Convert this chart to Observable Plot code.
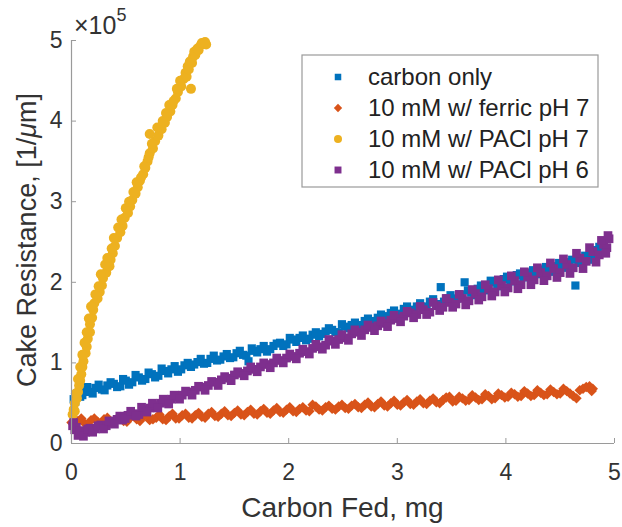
<!DOCTYPE html>
<html><head><meta charset="utf-8">
<script src="https://cdn.jsdelivr.net/npm/d3@7"></script>
<script src="https://cdn.jsdelivr.net/npm/@observablehq/plot@0.6"></script>
<style>body{margin:0;background:#fff}#chart{width:622px;height:527px;position:relative}</style>
</head><body><div id="chart"></div>
<script>
// y values in units of 10^5 (1/µm); x in mg
const carbonOnly = [[0.02,0.55],[0.05,0.62],[0.08,0.58],[0.12,0.66],[0.17,0.64],[0.22,0.69],[0.28,0.67],[0.33,0.72],[0.39,0.74],[0.45,0.71],[0.50,0.78],[0.56,0.76],[0.62,0.82],[0.68,0.80],[0.74,0.86],[0.80,0.84],[0.86,0.90],[0.92,0.92],[0.98,0.89],[1.04,0.97],[1.10,0.95],[1.16,1.01],[1.22,0.99],[1.28,1.05],[1.34,1.03],[1.40,1.08],[1.46,1.06],[1.52,1.12],[1.58,1.10],[1.63,1.02],[1.68,1.15],[1.74,1.17],[1.80,1.14],[1.86,1.21],[1.92,1.25],[1.98,1.23],[2.04,1.29],[2.10,1.31],[2.16,1.28],[2.22,1.35],[2.28,1.33],[2.34,1.39],[2.40,1.41],[2.46,1.38],[2.52,1.45],[2.58,1.47],[2.64,1.44],[2.70,1.52],[2.76,1.50],[2.82,1.56],[2.88,1.58],[2.94,1.62],[3.00,1.60],[3.06,1.67],[3.12,1.65],[3.18,1.70],[3.24,1.68],[3.30,1.76],[3.36,1.73],[3.40,1.94],[3.46,1.80],[3.52,1.78],[3.58,1.85],[3.62,2.00],[3.68,1.87],[3.74,1.92],[3.80,1.90],[3.86,2.02],[3.92,1.97],[3.98,2.04],[4.04,2.01],[4.10,2.09],[4.16,2.06],[4.22,2.12],[4.28,2.10],[4.34,2.16],[4.40,2.13],[4.46,2.20],[4.52,2.18],[4.58,2.25],[4.64,1.96],[4.70,2.30],[4.76,2.28],[4.82,2.38],[4.86,2.44],
[0.035,0.52],[0.10,0.60],[0.145,0.70],[0.195,0.62],[0.25,0.73],[0.305,0.66],[0.36,0.76],[0.42,0.70],[0.475,0.80],[0.53,0.73],[0.59,0.85],[0.65,0.78],[0.71,0.88],[0.77,0.82],[0.83,0.93],[0.89,0.87],[0.95,0.96],[1.01,0.92],[1.07,1.00],[1.13,0.98],[1.19,1.05],[1.25,1.00],[1.31,1.09],[1.37,1.04],[1.43,1.11],[1.49,1.07],[1.55,1.15],[1.61,1.09],[1.66,1.18],[1.71,1.13],[1.77,1.21],[1.83,1.17],[1.89,1.24],[1.95,1.21],[2.01,1.31],[2.07,1.26],[2.13,1.34],[2.19,1.30],[2.25,1.38],[2.31,1.36],[2.37,1.43],[2.43,1.38],[2.49,1.48],[2.55,1.43],[2.61,1.50],[2.67,1.47],[2.73,1.55],[2.79,1.52],[2.85,1.60],[2.91,1.55],[2.97,1.65],[3.03,1.61],[3.09,1.70],[3.15,1.66],[3.21,1.74],[3.27,1.70],[3.33,1.79],[3.43,1.76],[3.49,1.84],[3.55,1.80],[3.65,1.90],[3.71,1.84],[3.77,1.96],[3.83,1.92],[3.89,2.00],[3.95,1.95],[4.01,2.07],[4.07,2.03],[4.13,2.11],[4.19,2.07],[4.25,2.15],[4.31,2.11],[4.37,2.19],[4.43,2.15],[4.49,2.24],[4.55,2.19],[4.61,2.28],[4.67,2.24],[4.73,2.33],[4.79,2.30],[4.84,2.40]];

const ferricPH7 = [[0.00,0.26],[0.06,0.28],[0.12,0.25],[0.18,0.29],[0.24,0.27],[0.30,0.30],[0.36,0.27],[0.42,0.31],[0.48,0.28],[0.54,0.32],[0.60,0.30],[0.66,0.33],[0.72,0.29],[0.78,0.32],[0.84,0.30],[0.90,0.34],[0.96,0.31],[1.02,0.35],[1.08,0.32],[1.14,0.35],[1.20,0.33],[1.26,0.37],[1.32,0.34],[1.38,0.37],[1.44,0.35],[1.50,0.38],[1.56,0.36],[1.62,0.39],[1.68,0.37],[1.74,0.40],[1.80,0.38],[1.86,0.41],[1.92,0.39],[1.98,0.42],[2.04,0.40],[2.10,0.43],[2.16,0.41],[2.22,0.48],[2.28,0.42],[2.34,0.45],[2.40,0.43],[2.46,0.46],[2.52,0.44],[2.58,0.47],[2.64,0.45],[2.70,0.48],[2.76,0.46],[2.82,0.49],[2.88,0.47],[2.94,0.50],[3.00,0.48],[3.06,0.51],[3.12,0.49],[3.18,0.52],[3.24,0.50],[3.30,0.53],[3.36,0.51],[3.42,0.54],[3.48,0.58],[3.54,0.53],[3.60,0.56],[3.66,0.54],[3.72,0.57],[3.78,0.55],[3.84,0.59],[3.90,0.56],[3.96,0.60],[4.02,0.58],[4.08,0.61],[4.14,0.59],[4.20,0.62],[4.26,0.60],[4.32,0.63],[4.38,0.61],[4.44,0.64],[4.50,0.62],[4.56,0.65],[4.62,0.59],[4.68,0.66],[4.74,0.70],[4.80,0.68],
[0.03,0.23],[0.09,0.31],[0.15,0.24],[0.21,0.31],[0.27,0.25],[0.33,0.32],[0.39,0.26],[0.45,0.33],[0.51,0.27],[0.57,0.34],[0.63,0.28],[0.69,0.35],[0.75,0.30],[0.81,0.36],[0.87,0.29],[0.93,0.37],[0.99,0.31],[1.05,0.37],[1.11,0.31],[1.17,0.38],[1.23,0.32],[1.29,0.39],[1.35,0.33],[1.41,0.40],[1.47,0.34],[1.53,0.41],[1.59,0.35],[1.65,0.42],[1.71,0.36],[1.77,0.43],[1.83,0.37],[1.89,0.44],[1.95,0.38],[2.01,0.45],[2.07,0.39],[2.13,0.45],[2.19,0.40],[2.25,0.46],[2.31,0.41],[2.37,0.47],[2.43,0.42],[2.49,0.48],[2.55,0.43],[2.61,0.49],[2.67,0.44],[2.73,0.51],[2.79,0.45],[2.85,0.52],[2.91,0.46],[2.97,0.53],[3.03,0.47],[3.09,0.54],[3.15,0.48],[3.21,0.55],[3.27,0.49],[3.33,0.56],[3.39,0.50],[3.45,0.57],[3.51,0.52],[3.57,0.58],[3.63,0.53],[3.69,0.60],[3.75,0.54],[3.81,0.61],[3.87,0.55],[3.93,0.62],[3.99,0.57],[4.05,0.63],[4.11,0.58],[4.17,0.65],[4.23,0.59],[4.29,0.66],[4.35,0.60],[4.41,0.67],[4.47,0.61],[4.53,0.68],[4.59,0.62],[4.65,0.56],[4.71,0.68],[4.77,0.71],[4.79,0.65]];

const paclPH7 = [[0.01,0.36],[0.02,0.42],[0.03,0.50],[0.05,0.56],[0.06,0.64],[0.07,0.72],[0.08,0.78],[0.09,0.86],[0.10,0.95],[0.11,1.02],[0.13,1.12],[0.14,1.20],[0.15,1.30],[0.17,1.38],[0.17,1.48],[0.19,1.56],[0.20,1.66],[0.21,1.74],[0.24,1.80],[0.26,1.88],[0.28,1.96],[0.29,2.05],[0.32,2.12],[0.35,2.20],[0.36,2.28],[0.38,2.36],[0.40,2.45],[0.42,2.55],[0.45,2.62],[0.47,2.70],[0.49,2.80],[0.52,2.86],[0.54,2.94],[0.56,3.02],[0.59,3.10],[0.61,3.18],[0.63,3.26],[0.66,3.34],[0.68,3.42],[0.70,3.50],[0.72,3.60],[0.75,3.66],[0.77,3.75],[0.80,3.82],[0.72,3.84],[0.83,3.90],[0.86,3.98],[0.88,4.05],[0.91,4.12],[0.93,4.20],[0.96,4.28],[0.98,4.36],[1.01,4.43],[1.10,4.40],[1.03,4.52],[1.05,4.60],[1.07,4.68],[1.09,4.74],[1.12,4.80],[1.13,4.86],[1.16,4.90],[1.19,4.94],[1.22,4.96],[1.24,4.95],
[0.03,0.40],[0.04,0.62],[0.06,0.80],[0.08,0.95],[0.10,1.10],[0.12,1.25],[0.14,1.38],[0.16,1.55],[0.18,1.70],[0.22,1.85],[0.25,1.95],[0.27,2.10],[0.31,2.22],[0.33,2.30],[0.37,2.42],[0.39,2.55],[0.43,2.68],[0.46,2.78],[0.50,2.92],[0.53,3.00],[0.57,3.12],[0.60,3.24],[0.64,3.30],[0.67,3.44],[0.71,3.55],[0.74,3.72],[0.79,3.92],[0.84,4.00],[0.87,4.10],[0.90,4.20],[0.94,4.25],[0.97,4.40],[1.00,4.50],[1.06,4.55],[1.08,4.64],[1.11,4.72],[1.14,4.82],[1.17,4.88],[1.20,4.97],[1.23,4.98]];

const paclPH6 = [[0.01,0.22],[0.03,0.17],[0.06,0.10],[0.09,0.13],[0.13,0.14],[0.17,0.19],[0.22,0.18],[0.27,0.23],[0.32,0.22],[0.37,0.27],[0.42,0.30],[0.47,0.29],[0.52,0.35],[0.57,0.37],[0.62,0.36],[0.67,0.42],[0.72,0.44],[0.77,0.47],[0.82,0.50],[0.87,0.52],[0.92,0.55],[0.97,0.58],[1.02,0.60],[1.08,0.64],[1.14,0.66],[1.20,0.70],[1.26,0.72],[1.32,0.76],[1.38,0.79],[1.44,0.81],[1.50,0.85],[1.56,0.87],[1.62,0.90],[1.68,0.92],[1.74,0.95],[1.80,0.98],[1.86,1.00],[1.92,1.03],[1.98,1.06],[2.04,1.08],[2.10,1.12],[2.16,1.14],[2.22,1.18],[2.28,1.20],[2.34,1.22],[2.40,1.27],[2.46,1.29],[2.52,1.31],[2.58,1.36],[2.64,1.38],[2.70,1.41],[2.76,1.44],[2.82,1.46],[2.88,1.49],[2.94,1.53],[3.00,1.55],[3.06,1.58],[3.12,1.62],[3.18,1.60],[3.24,1.66],[3.30,1.63],[3.36,1.71],[3.42,1.69],[3.48,1.75],[3.54,1.73],[3.60,1.80],[3.66,1.77],[3.72,1.86],[3.78,1.82],[3.84,1.92],[3.90,1.88],[3.96,1.96],[4.02,1.93],[4.08,2.02],[4.14,1.97],[4.20,2.07],[4.26,2.03],[4.32,2.12],[4.38,2.08],[4.44,2.17],[4.50,2.12],[4.56,2.22],[4.62,2.18],[4.68,2.30],[4.74,2.26],[4.80,2.38],[4.86,2.34],[4.90,2.47],[4.93,2.43],[4.95,2.54],
[0.02,0.26],[0.045,0.20],[0.075,0.16],[0.11,0.09],[0.15,0.18],[0.195,0.14],[0.245,0.22],[0.295,0.18],[0.345,0.28],[0.395,0.24],[0.445,0.34],[0.495,0.31],[0.545,0.40],[0.595,0.34],[0.645,0.45],[0.695,0.39],[0.745,0.50],[0.795,0.44],[0.845,0.55],[0.895,0.49],[0.945,0.60],[0.995,0.55],[1.05,0.65],[1.11,0.60],[1.17,0.71],[1.23,0.66],[1.29,0.77],[1.35,0.72],[1.41,0.83],[1.47,0.78],[1.53,0.89],[1.59,0.84],[1.65,0.95],[1.71,0.89],[1.77,1.00],[1.83,0.94],[1.89,1.06],[1.95,1.00],[2.01,1.11],[2.07,1.05],[2.13,1.17],[2.19,1.11],[2.25,1.23],[2.31,1.17],[2.37,1.29],[2.43,1.23],[2.49,1.35],[2.55,1.28],[2.61,1.41],[2.67,1.34],[2.73,1.47],[2.79,1.40],[2.85,1.52],[2.91,1.45],[2.97,1.59],[3.03,1.51],[3.09,1.64],[3.15,1.56],[3.21,1.70],[3.27,1.60],[3.33,1.75],[3.39,1.65],[3.45,1.80],[3.51,1.69],[3.57,1.85],[3.63,1.72],[3.69,1.91],[3.75,1.78],[3.81,1.97],[3.87,1.83],[3.93,2.03],[3.99,1.88],[4.05,2.08],[4.11,1.92],[4.17,2.13],[4.23,1.97],[4.29,2.18],[4.35,2.02],[4.41,2.24],[4.47,2.06],[4.53,2.29],[4.59,2.11],[4.65,2.36],[4.71,2.17],[4.77,2.43],[4.83,2.25],[4.88,2.52],[4.92,2.36],[4.94,2.58]];

const seriesNames = ["carbon only", "10 mM w/ ferric pH 7", "10 mM w/ PACl pH 7", "10 mM w/ PACl pH 6"];
const seriesColors = ["#0072BD", "#D95319", "#EDB120", "#7E2F8E"];
const seriesSymbols = ["square", "diamond2", "circle", "square"];
const seriesR = [4.6, 4.7, 5.0, 4.9];
const xTicks = [0, 1, 2, 3, 4, 5];
const yTicks = [0, 1, 2, 3, 4, 5];
const xLabel = "Carbon Fed, mg";
const yLabelPre = "Cake Resistance, [1/";
const yLabelMu = "\u03BC";
const yLabelPost = "m]";

const FONT = "'Liberation Sans', Arial, Helvetica, sans-serif";
const rows = s => s.map(([x, y]) => ({x, y}));
const allSeries = [carbonOnly, ferricPH7, paclPH7, paclPH6];

const dotMarks = allSeries.map((s, i) => Plot.dot(rows(s), {
  x: "x", y: "y", symbol: seriesSymbols[i], r: seriesR[i],
  fill: seriesColors[i], stroke: "none"
}));

const plot = Plot.plot({
  width: 622, height: 527,
  marginLeft: 71, marginRight: 8, marginTop: 40, marginBottom: 84,
  style: {fontFamily: FONT, background: "white", overflow: "visible"},
  x: {domain: [0, 5]},
  y: {domain: [0, 5]},
  marks: [
    ...dotMarks,
    Plot.ruleY([0], {stroke: "#9a9a9a", strokeWidth: 1.2}),
    Plot.ruleX([0], {stroke: "#9a9a9a", strokeWidth: 1.2}),
    Plot.axisX(xTicks, {tickSize: -5, tickPadding: 25, tickFormat: "d", stroke: "#9a9a9a", fill: "#333", fontSize: 23, label: null}),
    Plot.axisY(yTicks, {tickSize: -5, tickPadding: 14, tickFormat: "d", stroke: "#9a9a9a", fill: "#333", fontSize: 23, label: null})
  ]
});
document.getElementById("chart").appendChild(plot);

const svg = d3.select(plot);
// x label
svg.append("text").attr("x", 342.5).attr("y", 517).attr("text-anchor", "middle")
  .attr("font-family", FONT).attr("font-size", 28).attr("fill", "#333").text(xLabel);
// y label
const yl = svg.append("text").attr("transform", "translate(36,240) rotate(-90)")
  .attr("text-anchor", "middle").attr("font-family", FONT).attr("font-size", 27).attr("fill", "#333");
yl.append("tspan").text(yLabelPre);
yl.append("tspan").attr("font-style", "italic").text(yLabelMu);
yl.append("tspan").text(yLabelPost);
// exponent
const ex = svg.append("text").attr("x", 74).attr("y", 34).attr("text-anchor", "start")
  .attr("font-family", FONT).attr("font-size", 25).attr("fill", "#333");
ex.append("tspan").text("\u00D710");
ex.append("tspan").attr("font-size", 18).attr("dy", -13).text("5");

// legend
const lg = svg.append("g");
lg.append("rect").attr("x", 302).attr("y", 55).attr("width", 296).attr("height", 132)
  .attr("fill", "white").attr("stroke", "#9a9a9a").attr("stroke-width", 1.2);
const symMap = {square: d3.symbolSquare, diamond2: d3.symbolDiamond2, circle: d3.symbolCircle};
seriesNames.forEach((name, i) => {
  const cy = 77 + i * 31;
  const r = seriesR[i] * 0.8;
  lg.append("path").attr("transform", `translate(338,${cy})`)
    .attr("d", d3.symbol(symMap[seriesSymbols[i]], r * r * Math.PI)())
    .attr("fill", seriesColors[i]);
  lg.append("text").attr("x", 368).attr("y", cy).attr("dy", "0.35em").attr("text-anchor", "start")
    .attr("font-family", FONT).attr("font-size", 24).attr("fill", "#222").text(name);
});
</script></body></html>
